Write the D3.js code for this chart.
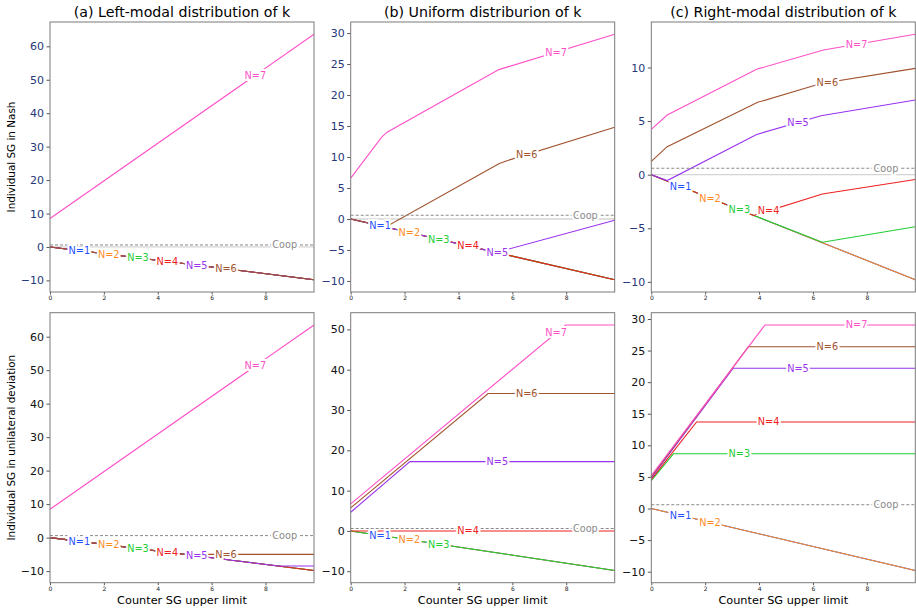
<!DOCTYPE html>
<html lang="en">
<head>
    <meta charset="UTF-8">
    <title>Individual SG by counter SG upper limit</title>
    <script src="https://d3js.org/d3.v7.min.js"></script>
    <style>
        body {
            margin: 0;
            background: white;
            font-family: "DejaVu Sans", sans-serif;
        }
        .spine { fill: none; stroke: #7a7a7a; stroke-width: 1; }
        .tick line { stroke: #555; }
        .tick text { font-family: "DejaVu Sans", sans-serif; }
        .domain { display: none; }
    </style>
</head>
<body>
    <svg id="chart" width="916" height="612"></svg>

    <script>
        // titles and labels
        const panelTitles = ["(a) Left-modal distribution of k", "(b) Uniform distriburion of k", "(c) Right-modal distribution of k"];
        const rowLabels = ["Individual SG in Nash", "Individual SG in unilateral deviation"];
        const xLabel = "Counter SG upper limit";

        const seriesNames = ["N=1", "N=2", "N=3", "N=4", "N=5", "N=6", "N=7"];
        const seriesColors = ["#1f4fff", "#ff8a1f", "#22cc33", "#ee2020", "#9933ee", "#a0522d", "#ff50c8"];
        const coopValue = 0.6;
        const xMax = 9.8;
        const xTicks = [0, 2, 4, 6, 8];

        // top row: individual SG in Nash, breakpoints [x, y] per N
        const nashLeft = [
            [[0, 0], [9.8, -9.8]],
            [[0, 0], [9.8, -9.8]],
            [[0, 0], [9.8, -9.8]],
            [[0, 0], [9.8, -9.8]],
            [[0, 0], [9.8, -9.8]],
            [[0, 0], [9.8, -9.8]],
            [[0, 8.5], [9.8, 63.6]]
        ];
        const nashUniform = [
            [[0, 0], [9.8, -9.8]],
            [[0, 0], [9.8, -9.8]],
            [[0, 0], [9.8, -9.8]],
            [[0, 0], [9.8, -9.8]],
            [[0, 0], [5.4, -5.4], [9.8, -0.2]],
            [[0, 0], [1.3, -1.3], [5.5, 8.9], [5.8, 9.4], [9.8, 14.8]],
            [[0, 6.6], [1.15, 13.2], [1.35, 14.0], [5.5, 24.1], [5.8, 24.5], [9.8, 29.8]]
        ];
        const nashRight = [
            [[0, 0], [9.8, -9.8]],
            [[0, 0], [9.8, -9.8]],
            [[0, 0], [3.8, -3.8], [6.35, -6.3], [9.8, -4.85]],
            [[0, 0], [3.8, -3.8], [6.35, -1.8], [9.8, -0.45]],
            [[0, 0], [0.59, -0.55], [3.91, 3.75], [6.3, 5.5], [9.8, 6.97]],
            [[0, 1.24], [0.59, 2.61], [3.95, 6.75], [6.3, 8.5], [9.8, 9.92]],
            [[0, 4.23], [0.59, 5.57], [3.91, 9.83], [6.39, 11.63], [9.8, 13.1]]
        ];

        // bottom row: individual SG in unilateral deviation
        const devLeft = [
            [[0, 0], [9.8, -9.8]],
            [[0, 0], [9.8, -9.8]],
            [[0, 0], [9.8, -9.8]],
            [[0, 0], [9.8, -9.8]],
            [[0, 0], [8.5, -8.5], [9.8, -8.5]],
            [[0, 0], [5.0, -5.0], [9.8, -5.0]],
            [[0, 8.45], [9.8, 63.5]]
        ];
        const devUniform = [
            [[0, 0], [9.8, -9.8]],
            [[0, 0], [9.8, -9.8]],
            [[0, 0], [9.8, -9.8]],
            [[0, 0], [9.8, 0]],
            [[0, 4.64], [2.2, 17.2], [9.8, 17.2]],
            [[0, 5.72], [5.1, 34.1], [9.8, 34.1]],
            [[0, 6.7], [7.98, 51.1], [9.8, 51.1]]
        ];
        const devRight = [
            [[0, 0], [9.8, -9.8]],
            [[0, 0], [9.8, -9.8]],
            [[0, 4.4], [0.82, 8.66], [9.8, 8.66]],
            [[0, 4.6], [1.68, 13.7], [9.8, 13.7]],
            [[0, 4.85], [3.04, 22.2], [9.8, 22.2]],
            [[0, 5.0], [3.6, 25.6], [9.8, 25.6]],
            [[0, 5.2], [4.22, 29.05], [9.8, 29.05]]
        ];

        // y tick values per panel
        const yTicksNashLeft = [-10, 0, 10, 20, 30, 40, 50, 60];
        const yTicksNashUniform = [-10, -5, 0, 5, 10, 15, 20, 25, 30];
        const yTicksNashRight = [-10, -5, 0, 5, 10];
        const yTicksDevLeft = [-10, 0, 10, 20, 30, 40, 50, 60];
        const yTicksDevUniform = [-10, 0, 10, 20, 30, 40, 50];
        const yTicksDevRight = [-10, -5, 0, 5, 10, 15, 20, 25, 30];

        const panels = [
            { row: 0, col: 0, data: nashLeft, ticks: yTicksNashLeft },
            { row: 0, col: 1, data: nashUniform, ticks: yTicksNashUniform },
            { row: 0, col: 2, data: nashRight, ticks: yTicksNashRight },
            { row: 1, col: 0, data: devLeft, ticks: yTicksDevLeft },
            { row: 1, col: 1, data: devUniform, ticks: yTicksDevUniform },
            { row: 1, col: 2, data: devRight, ticks: yTicksDevRight }
        ];

        // layout
        const colLeft = [50, 350.7, 651.3],
            rowTop = [22, 312.7],
            panelW = 264,
            panelH = 270;

        let svg = d3.select("#chart");

        // value of a polyline at x
        function valueAt(pts, x) {
            for (let i = 1; i < pts.length; i++) {
                if (x <= pts[i][0]) {
                    let t = (x - pts[i - 1][0]) / (pts[i][0] - pts[i - 1][0]);
                    return pts[i - 1][1] + t * (pts[i][1] - pts[i - 1][1]);
                }
            }
            return pts[pts.length - 1][1];
        }

        panels.forEach(p => {
            let g = svg.append("g")
                .attr("transform", `translate(${colLeft[p.col]},${rowTop[p.row]})`);

            let allY = p.data.flat().map(d => d[1]).concat([coopValue]);
            let yMin = d3.min(allY), yMax = d3.max(allY);
            let pad = (yMax - yMin) * 0.05;

            let x = d3.scaleLinear().domain([0, xMax]).range([0, panelW]);
            let y = d3.scaleLinear().domain([yMin - pad, yMax + pad]).range([panelH, 0]);

            let line = d3.line().x(d => x(d[0])).y(d => y(d[1]));

            // zero reference in the Nash row
            if (p.row === 0) {
                g.append("line")
                    .attr("x1", 0).attr("x2", panelW)
                    .attr("y1", y(0)).attr("y2", y(0))
                    .attr("stroke", "#d4d4d4")
                    .attr("stroke-width", 1.3);
            }

            // series lines
            p.data.forEach((pts, i) => {
                g.append("path")
                    .attr("d", line(pts))
                    .attr("fill", "none")
                    .attr("stroke", seriesColors[i])
                    .attr("stroke-width", 1.1);
            });

            // cooperative level
            g.append("line")
                .attr("x1", 0).attr("x2", panelW)
                .attr("y1", y(coopValue)).attr("y2", y(coopValue))
                .attr("stroke", "#8a8a8a")
                .attr("stroke-width", 1)
                .attr("stroke-dasharray", "3,2");

            // inline labels, evenly spaced along x
            let labels = seriesNames.map((name, i) => ({
                text: name, color: seriesColors[i],
                x: xMax * (i + 1) / 9, y: valueAt(p.data[i], xMax * (i + 1) / 9)
            }));
            labels.push({ text: "Coop", color: "#8a8a8a", x: xMax * 8 / 9, y: coopValue });

            g.selectAll(".line-label")
                .data(labels)
                .enter()
                .append("text")
                .attr("class", "line-label")
                .attr("x", d => x(d.x))
                .attr("y", d => y(d.y))
                .attr("dy", "0.36em")
                .attr("text-anchor", "middle")
                .style("font-size", "9.7px")
                .style("fill", d => d.color)
                .style("stroke", "white")
                .style("stroke-width", "4px")
                .style("paint-order", "stroke fill")
                .text(d => d.text);

            // axes
            g.append("g")
                .attr("transform", `translate(0,${panelH})`)
                .call(d3.axisBottom(x).tickValues(xTicks).tickSize(2.5).tickPadding(1.5))
                .selectAll("text")
                .style("font-size", "6px")
                .style("fill", "#222");

            g.append("g")
                .call(d3.axisLeft(y).tickValues(p.ticks).tickSize(3.5).tickPadding(2.5)
                    .tickFormat(d => d < 0 ? "\u2212" + Math.abs(d) : d))
                .selectAll("text")
                .style("font-size", "11px")
                .style("fill", p.row === 0 ? "#27377a" : "#111");

            g.append("rect")
                .attr("class", "spine")
                .attr("width", panelW)
                .attr("height", panelH);

            if (p.row === 0) {
                g.append("text")
                    .attr("x", panelW / 2)
                    .attr("y", -5)
                    .attr("text-anchor", "middle")
                    .style("font-size", "14.2px")
                    .text(panelTitles[p.col]);
            } else {
                g.append("text")
                    .attr("x", panelW / 2)
                    .attr("y", panelH + 21)
                    .attr("text-anchor", "middle")
                    .style("font-size", "11.3px")
                    .text(xLabel);
            }

            if (p.col === 0) {
                g.append("text")
                    .attr("transform", `translate(-35,${panelH / 2}) rotate(-90)`)
                    .attr("text-anchor", "middle")
                    .style("font-size", "10.4px")
                    .text(rowLabels[p.row]);
            }
        });
    </script>
</body>
</html>
